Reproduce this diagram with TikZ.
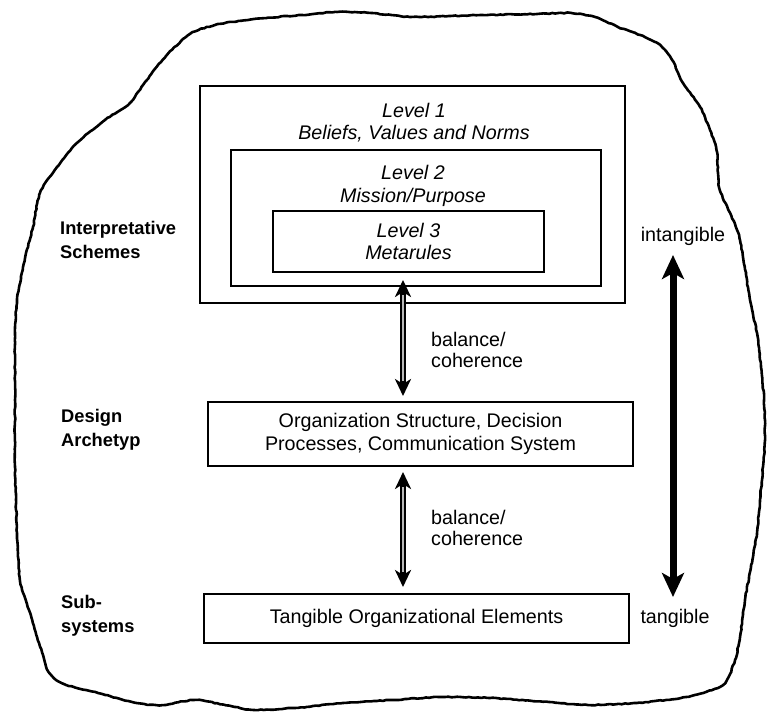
\documentclass[tikz,border=0pt]{standalone}
\usepackage{fontspec}
\setmainfont{Liberation Sans}
\usetikzlibrary{arrows.meta,decorations.pathmorphing}
\begin{document}
\pgfmathsetseed{7}
\begin{tikzpicture}[x=1pt,y=-1pt,
  box/.style={draw, line width=2.4pt, inner sep=0pt, align=center,
              font=\fontsize{19.7}{23.5}\selectfont},
  lvltext/.style={align=center, inner sep=0pt, font=\fontsize{19.7}{22.5}\selectfont\itshape},
  sidelabel/.style={anchor=west, align=left, inner sep=0pt,
                    font=\fontsize{18.3}{24}\selectfont\bfseries},
  note/.style={anchor=west, align=left, inner sep=0pt,
               font=\fontsize{19.7}{21}\selectfont},
  pole/.style={inner sep=0pt, font=\fontsize{19.7}{22}\selectfont},
  hollowarrow/.style={line width=5.5pt,
      {Stealth[length=17pt,width=16pt,inset=5pt]}-{Stealth[length=17pt,width=16pt,inset=5pt]}},
  hollowcore/.style={line width=2.2pt, draw=gray!55, shorten <=15pt, shorten >=15pt},
  bigarrow/.style={line width=7pt,
      {Stealth[length=24pt,width=22pt,inset=6pt]}-{Stealth[length=24pt,width=22pt,inset=6pt]}},
  outline/.style={line width=2.6pt, line join=round,
      decorate, decoration={random steps, segment length=3pt, amplitude=0.45pt}}
]
\useasboundingbox (0,0) rectangle (767,711);

% hand-drawn organisation boundary
\draw[outline] plot[smooth cycle, tension=0.45] coordinates {
  (105,120) (129,104) (146,81) (166,56) (190,34) (215,25) (254,19) (302,15)
  (337,12) (371,13) (410,17) (449,16) (488,15) (537,14) (571,13) (595,17)
  (618,27) (640,35) (660,45) (672,60) (683,83) (700,107) (710,130) (717,152)
  (719,187) (730,213) (740,240) (750,300) (757,333) (761,367) (764,400)
  (765,440) (763,467) (760,500) (757,533) (751,567) (745,600) (740,637)
  (735,660) (725,683) (706,692) (681,698) (637,703) (588,705) (549,702)
  (490,698) (441,697) (392,700) (343,703) (294,708) (255,710) (235,707)
  (196,700) (162,705) (137,703) (98,693) (64,684) (49,672) (39,643) (29,610)
  (20,580) (17,533) (15,467) (15,400) (15,333) (17,300) (23,267) (33,227)
  (40,193) (57,167) (77,143)
};

% interpretative schemes: three nested levels
\node[box, minimum width=425pt, minimum height=217pt] (lvlone) at (412.5,194.5) {};
\node[box, minimum width=370pt, minimum height=136pt] (lvltwo) at (416,218) {};
\node[box, minimum width=271pt, minimum height=61pt, font=\fontsize{19.7}{22.5}\selectfont\itshape]
  (lvlthree) at (408.5,241.5) {Level 3\\Metarules};
\node[lvltext] (lvlonetext) at (414,122.5) {Level 1\\Beliefs, Values and Norms};
\node[lvltext] (lvltwotext) at (413,186) {Level 2\\Mission/Purpose};

% design archetype and subsystems
\node[box, minimum width=425pt, minimum height=64pt] (design) at (420.5,434)
  {Organization Structure, Decision\\Processes, Communication System};
\node[box, minimum width=425pt, minimum height=49pt] (tangbox) at (416.5,618.5)
  {Tangible Organizational Elements};

% row labels
\node[sidelabel] (interp) at (60,239.5) {Interpretative\\Schemes};
\node[sidelabel] (archetyp) at (61,430) {Design\\Archetyp};
\node[sidelabel] (subsys) at (61,616) {Sub-\\systems};

% balance / coherence links
\coordinate (upa) at (403,280);
\coordinate (upb) at (403,396);
\coordinate (lowa) at (403,472);
\coordinate (lowb) at (403,587);
\draw[hollowarrow] (upa) -- (upb);
\draw[hollowcore] (upa) -- (upb);
\draw[hollowarrow] (lowa) -- (lowb);
\draw[hollowcore] (lowa) -- (lowb);
\node[note] (balup) at (431,350) {balance/\\coherence};
\node[note] (ballow) at (431,527.5) {balance/\\coherence};

% intangible -- tangible scale
\node[pole] (intang) at (683,236) {intangible};
\node[pole] (tang) at (675,618) {tangible};
\coordinate (scaletop) at (673,255);
\coordinate (scalebot) at (673,597);
\draw[bigarrow] (scaletop) -- (scalebot);
\end{tikzpicture}
\end{document}
